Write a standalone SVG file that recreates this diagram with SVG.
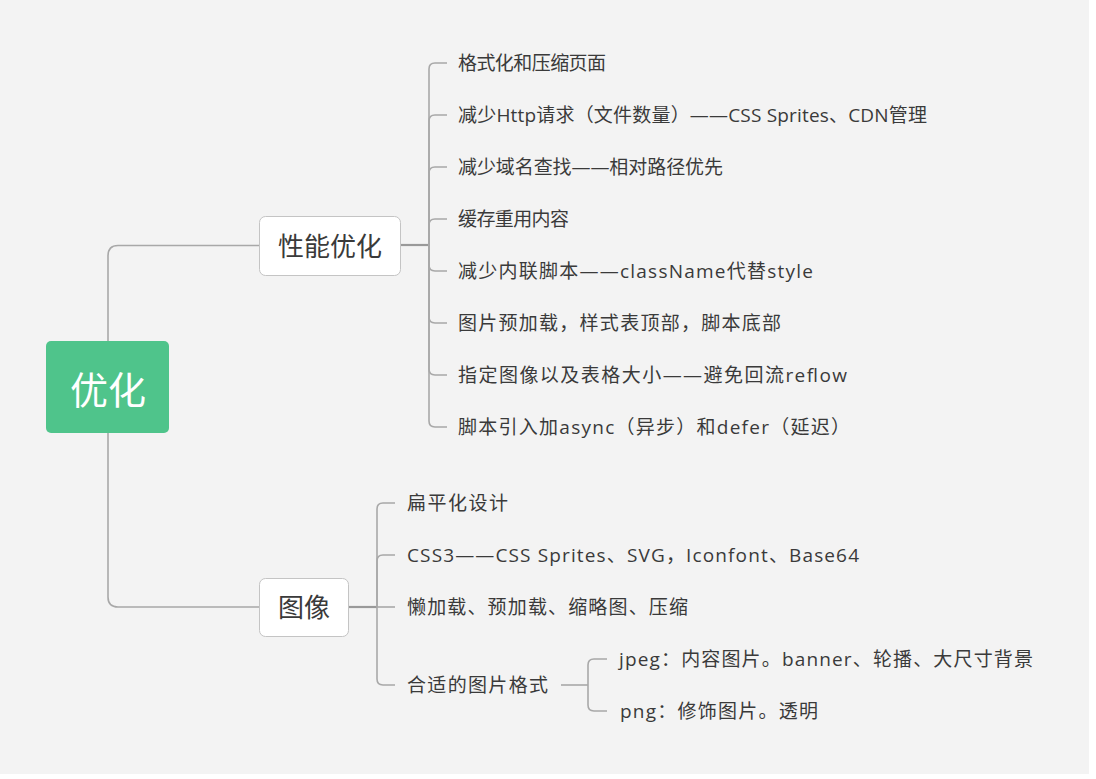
<svg xmlns="http://www.w3.org/2000/svg" width="1096" height="779" viewBox="0 0 1096 779">
<style>
.t{font-family:"Open Sans","Noto Sans CJK SC",sans-serif;font-size:19px;fill:#3a3a3a}
.c{fill:none;stroke:#a8a8a8;stroke-width:1.6}
.s{fill:none;stroke:#999;stroke-width:2.2}
.box{fill:#fff;stroke:#c4c4c4;stroke-width:1}
.bt{font-family:"Noto Sans CJK SC",sans-serif;font-size:26px;fill:#3a3a3a;text-anchor:middle}
</style>
<rect x="0" y="0" width="1096" height="779" fill="#fff"/>
<rect x="0" y="0" width="1089" height="774" fill="#f3f3f3"/>
<g id="connectors">
<path class="c" d="M108,341 V256 Q108,245.5 118,245.5 H259"/>
<path class="c" d="M108,433 V597 Q108,607 118,607 H259"/>
<path class="s" d="M400,245 H429"/>
<path class="c" d="M429,245 V69 Q429,63 435,63 H447"/>
<path class="c" d="M429,245 V121 Q429,115 435,115 H447"/>
<path class="c" d="M429,245 V173 Q429,167 435,167 H447"/>
<path class="c" d="M429,245 V225 Q429,219 435,219 H447"/>
<path class="c" d="M429,245 V265 Q429,271 435,271 H447"/>
<path class="c" d="M429,245 V317 Q429,323 435,323 H447"/>
<path class="c" d="M429,245 V369 Q429,375 435,375 H447"/>
<path class="c" d="M429,245 V421 Q429,427 435,427 H447"/>
<path class="s" d="M349,607 H377"/>
<path class="c" d="M377,607 V509 Q377,503 383,503 H395"/>
<path class="c" d="M377,607 V561 Q377,555 383,555 H395"/>
<path class="c" d="M377,607 H395"/>
<path class="c" d="M377,607 V679 Q377,685 383,685 H395"/>
<path class="c" d="M561,685 H588"/>
<path class="c" d="M588,685 V665 Q588,659 594,659 H607"/>
<path class="c" d="M588,685 V705 Q588,711 594,711 H607"/>
</g>
<g id="root">
<rect x="46" y="341" width="123" height="92" rx="5" fill="#4fc48b"/>
<text x="108" y="404" font-family="Noto Sans CJK SC,sans-serif" font-size="38" fill="#fff" text-anchor="middle">优化</text>
</g>
<g id="perf">
<rect class="box" x="259.5" y="216.5" width="141" height="59" rx="6"/>
<text class="bt" x="330" y="256">性能优化</text>
</g>
<g id="image">
<rect class="box" x="259.5" y="578.5" width="89" height="58" rx="6"/>
<text class="bt" x="304" y="617">图像</text>
</g>
<g id="perf-items">
<text class="t" x="458" y="70" textLength="148" lengthAdjust="spacing">格式化和压缩页面</text>
<text class="t" x="458" y="122" textLength="469" lengthAdjust="spacing">减少Http请求（文件数量）——CSS Sprites、CDN管理</text>
<text class="t" x="458" y="174" textLength="265" lengthAdjust="spacing">减少域名查找——相对路径优先</text>
<text class="t" x="458" y="226" textLength="111" lengthAdjust="spacing">缓存重用内容</text>
<text class="t" x="458" y="278" textLength="355" lengthAdjust="spacing">减少内联脚本——className代替style</text>
<text class="t" x="458" y="330" textLength="323" lengthAdjust="spacing">图片预加载，样式表顶部，脚本底部</text>
<text class="t" x="458" y="382" textLength="389" lengthAdjust="spacing">指定图像以及表格大小——避免回流reflow</text>
<text class="t" x="458" y="434" textLength="392" lengthAdjust="spacing">脚本引入加async（异步）和defer（延迟）</text>
</g>
<g id="image-items">
<text class="t" x="407" y="510" textLength="101" lengthAdjust="spacing">扁平化设计</text>
<text class="t" x="407" y="562" textLength="452" lengthAdjust="spacing">CSS3——CSS Sprites、SVG，Iconfont、Base64</text>
<text class="t" x="407" y="614" textLength="281" lengthAdjust="spacing">懒加载、预加载、缩略图、压缩</text>
<text class="t" x="407" y="692" textLength="141" lengthAdjust="spacing">合适的图片格式</text>
</g>
<g id="format-items">
<text class="t" x="619" y="666" textLength="414" lengthAdjust="spacing">jpeg：内容图片。banner、轮播、大尺寸背景</text>
<text class="t" x="620" y="718" textLength="198" lengthAdjust="spacing">png：修饰图片。透明</text>
</g>
</svg>
